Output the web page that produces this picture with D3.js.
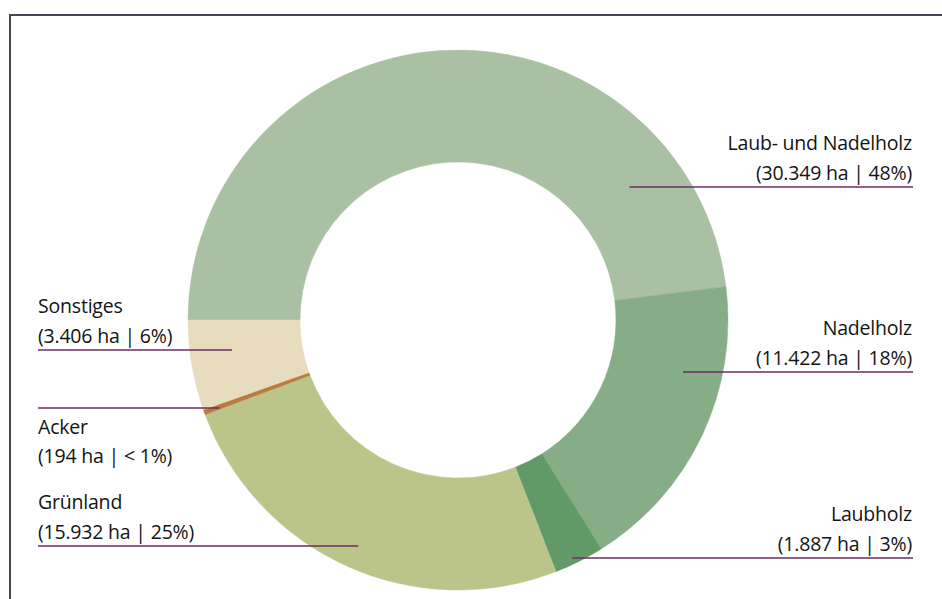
<!DOCTYPE html>
<html>
<head>
<meta charset="utf-8">
<script src="https://cdn.jsdelivr.net/npm/d3@7"></script>
<style>
  body { margin: 0; background: #fff; }
  svg text { font-family: "Open Sans", sans-serif; font-size: 19.5px; fill: #141414; letter-spacing: -0.2px; }
</style>
</head>
<body>
<svg id="chart" width="942" height="599"></svg>
<script>
// data
const categories = ["Laub- und Nadelholz", "Nadelholz", "Laubholz", "Grünland", "Acker", "Sonstiges"];
const areas = [30349, 11422, 1887, 15932, 194, 3406];
const valueLabels = ["(30.349 ha | 48%)", "(11.422 ha | 18%)", "(1.887 ha | 3%)", "(15.932 ha | 25%)", "(194 ha | < 1%)", "(3.406 ha | 6%)"];
const colors = ["#a9c0a3", "#87ad87", "#619a68", "#bbc58a", "#bb7a3e", "#e8dcbf"];

// label layout: side, y of the underline, radius where the leader ends, text above or below
const labelLayout = [
    { side: 1, lineY: 187, r: 217, textAbove: true },
    { side: 1, lineY: 372, r: 231, textAbove: true },
    { side: 1, lineY: 558, r: 264, textAbove: true },
    { side: -1, lineY: 546, r: 247, textAbove: true },
    { side: -1, lineY: 408, r: 254, textAbove: false },
    { side: -1, lineY: 350, r: 228, textAbove: true }
];

const svg = d3.select("#chart");
const cx = 458, cy = 320;
const outerR = 270, innerR = 158;

// frame
svg.append("line").attr("x1", 9).attr("x2", 942).attr("y1", 15).attr("y2", 15)
    .attr("stroke", "#404857").attr("stroke-width", 2);
svg.append("line").attr("x1", 10).attr("x2", 10).attr("y1", 14).attr("y2", 599)
    .attr("stroke", "#404857").attr("stroke-width", 2);

const data = categories.map((c, i) => ({ name: c, value: areas[i], label: valueLabels[i], color: colors[i], layout: labelLayout[i] }));

const pie = d3.pie()
    .value(d => d.value)
    .sort(null)
    .startAngle(-Math.PI / 2)
    .endAngle(3 * Math.PI / 2);

const arc = d3.arc().innerRadius(innerR).outerRadius(outerR);

const g = svg.append("g").attr("transform", `translate(${cx},${cy})`);

g.selectAll("path")
    .data(pie(data))
    .enter().append("path")
    .attr("d", arc)
    .attr("fill", d => d.data.color)
    .attr("stroke", d => d.data.color)
    .attr("stroke-width", 0.5);

// labels with leader lines
const leftX = 38, rightX = 912;

data.forEach(d => {
    const L = d.layout;
    const dy = L.lineY - cy;
    const innerX = cx + L.side * Math.sqrt(L.r * L.r - dy * dy);
    const x1 = L.side > 0 ? innerX : leftX;
    const x2 = L.side > 0 ? rightX + 1 : innerX;

    svg.append("line")
        .attr("x1", x1).attr("x2", x2)
        .attr("y1", L.lineY).attr("y2", L.lineY)
        .attr("stroke", "#6b2e62").attr("stroke-width", 1.5);

    const tx = L.side > 0 ? rightX : leftX;
    const anchor = L.side > 0 ? "end" : "start";
    const base1 = L.textAbove ? L.lineY - 37 : L.lineY + 26;
    const base2 = L.textAbove ? L.lineY - 7 : L.lineY + 55;

    svg.append("text").attr("x", tx).attr("y", base1).attr("text-anchor", anchor).text(d.name);
    svg.append("text").attr("x", tx).attr("y", base2).attr("text-anchor", anchor).text(d.label);
});
</script>
</body>
</html>
